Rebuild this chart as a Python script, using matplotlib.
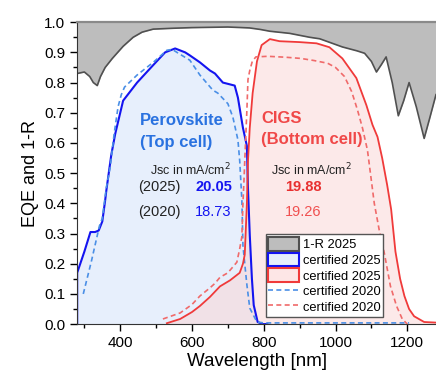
import matplotlib
matplotlib.use("Agg")
import matplotlib.pyplot as plt
from matplotlib.patches import Patch
from matplotlib.lines import Line2D

plt.rcParams['font.family'] = ['Liberation Sans', 'DejaVu Sans']

# 1-R (reflection loss) of the 2025 device
r_wl = [280, 300, 315, 325, 336, 345, 358, 378, 408, 436, 461, 492, 550, 600, 650, 700,
        760, 790, 817, 872, 928, 956, 1019, 1060, 1081, 1100, 1114, 1128, 1141, 1158,
        1175, 1190, 1205, 1225, 1247, 1262, 1280]
r_val = [0.83, 0.835, 0.82, 0.80, 0.79, 0.82, 0.85, 0.88, 0.92, 0.95, 0.967, 0.977, 0.98,
         0.982, 0.983, 0.984, 0.981, 0.976, 0.97, 0.963, 0.95, 0.945, 0.918, 0.905, 0.897,
         0.87, 0.835, 0.86, 0.885, 0.80, 0.69, 0.74, 0.80, 0.72, 0.615, 0.68, 0.76]

# perovskite top cell, certified 2025
ps_wl = [280, 280, 300, 317, 330, 340, 350, 358, 361, 375, 386, 408, 447, 492, 525, 553,
         581, 594, 622, 650, 664, 686, 719, 728, 742, 753, 756, 761, 767, 772, 783, 797, 810]
ps_val = [0, 0.17, 0.24, 0.305, 0.305, 0.31, 0.34, 0.41, 0.44, 0.56, 0.63, 0.74, 0.80,
          0.858, 0.90, 0.913, 0.90, 0.89, 0.867, 0.84, 0.83, 0.80, 0.79, 0.75, 0.65, 0.59,
          0.45, 0.295, 0.15, 0.063, 0.007, 0.0, 0.0]

# perovskite top cell, certified 2020
pd_wl = [297, 320, 342, 350, 361, 372, 383, 394, 403, 412, 447, 492, 530, 545, 558, 594,
         622, 658, 672, 700, 714, 728, 733, 739, 742, 747, 753, 761, 781, 800, 1205]
pd_val = [0.10, 0.21, 0.325, 0.35, 0.45, 0.52, 0.63, 0.72, 0.76, 0.785, 0.825, 0.867, 0.907,
          0.91, 0.90, 0.874, 0.825, 0.775, 0.765, 0.73, 0.685, 0.61, 0.54, 0.41, 0.26, 0.20,
          0.13, 0.053, 0.007, 0.004, 0.004]

# CIGS bottom cell, certified 2025
cs_wl = [530, 567, 600, 622, 650, 678, 706, 733, 742, 747, 753, 756, 761, 769, 781, 794,
         817, 844, 900, 947, 983, 1019, 1058, 1086, 1103, 1117, 1130, 1144, 1155, 1167,
         1180, 1192, 1205, 1219, 1247, 1280]
cs_val = [0.003, 0.017, 0.04, 0.06, 0.09, 0.125, 0.145, 0.17, 0.2, 0.23, 0.40, 0.54, 0.65,
          0.765, 0.87, 0.924, 0.944, 0.937, 0.934, 0.93, 0.917, 0.88, 0.815, 0.725, 0.66,
          0.62, 0.55, 0.46, 0.38, 0.24, 0.15, 0.093, 0.05, 0.026, 0.007, 0.005]

# CIGS bottom cell, certified 2020
cd_wl = [519, 567, 600, 622, 650, 664, 678, 700, 725, 733, 739, 742, 745, 747, 753, 756,
         761, 768, 778, 811, 860, 903, 940, 978, 1000, 1025, 1045, 1061, 1075, 1089, 1108,
         1122, 1136, 1153, 1170, 1186, 1200]
cd_val = [0.017, 0.037, 0.065, 0.093, 0.12, 0.135, 0.155, 0.17, 0.205, 0.25, 0.29, 0.40,
          0.48, 0.54, 0.71, 0.81, 0.84, 0.87, 0.885, 0.887, 0.884, 0.88, 0.873, 0.864, 0.85,
          0.82, 0.77, 0.71, 0.65, 0.576, 0.40, 0.31, 0.235, 0.126, 0.06, 0.017, 0.0]

jsc_pero = ['20.05', '18.73']
jsc_cigs = ['19.88', '19.26']
legend_labels = ['1-R 2025', 'certified 2025', 'certified 2025', 'certified 2020', 'certified 2020']

blue = '#1414f0'
blue_d = '#4a8fe6'
red = '#f03a3a'
red_d = '#f06a6a'

fig = plt.figure(figsize=(4.36, 3.76), dpi=100)
ax = fig.add_axes([0.177, 0.138, 0.823, 0.803])

# fills
ax.fill_between(r_wl, r_val, 1.0, color='#bdbdbd', lw=0)
ax.fill_between(ps_wl, ps_val, 0, color='#e7effc', lw=0)
ax.fill_between(cs_wl, cs_val, 0, color='#fbd4d4', alpha=0.5, lw=0)

# lines
ax.plot(r_wl, r_val, color='#505050', lw=1.2)
ax.plot(ps_wl, ps_val, color=blue, lw=1.5)
ax.plot(pd_wl, pd_val, color=blue_d, lw=1.2, dashes=(3, 2))
ax.plot(cs_wl, cs_val, color=red, lw=1.3)
ax.plot(cd_wl, cd_val, color=red_d, lw=1.2, dashes=(3, 2))

ax.set_xlim(280, 1280)
ax.set_ylim(0, 1.0)
ax.set_xticks([400, 600, 800, 1000, 1200])
ax.set_xticks([300, 500, 700, 900, 1100], minor=True)
ax.set_yticks([i / 10 for i in range(11)])
ax.set_yticks([i / 20 for i in range(1, 20, 2)], minor=True)
ax.set_yticklabels(['%.1f' % (i / 10) for i in range(11)])
ax.tick_params(which='major', direction='out', length=5, width=1, labelsize=11)
ax.tick_params(which='minor', direction='out', length=3, width=1)
ax.spines['right'].set_visible(False)
ax.spines['top'].set_color('#8a8a8a')
ax.spines['top'].set_linewidth(1.6)
ax.spines['left'].set_color('#333333')
ax.spines['bottom'].set_color('#333333')
ax.set_xlabel('Wavelength [nm]', fontsize=13.5, labelpad=2)
ax.set_ylabel('EQE and 1-R', fontsize=13, labelpad=4)

# annotations
ax.text(456, 0.675, 'Perovskite', color='#2a72e0', fontsize=12, fontweight='bold', va='center')
ax.text(456, 0.600, '(Top cell)', color='#2a72e0', fontsize=12, fontweight='bold', va='center')
ax.text(793, 0.680, 'CIGS', color='#f04848', fontsize=12, fontweight='bold', va='center')
ax.text(793, 0.612, '(Bottom cell)', color='#f04848', fontsize=12, fontweight='bold', va='center')
ax.text(484, 0.51, 'Jsc in mA/cm$^2$', color='#222222', fontsize=9, va='center')
ax.text(821, 0.51, 'Jsc in mA/cm$^2$', color='#222222', fontsize=9, va='center')
ax.text(450, 0.455, '(2025)', color='#222222', fontsize=10.5, va='center')
ax.text(450, 0.370, '(2020)', color='#222222', fontsize=10.5, va='center')
ax.text(609, 0.455, jsc_pero[0], color=blue, fontsize=10.5, fontweight='bold', va='center')
ax.text(609, 0.370, jsc_pero[1], color=blue, fontsize=10.5, va='center')
ax.text(860, 0.455, jsc_cigs[0], color='#e83030', fontsize=10.5, fontweight='bold', va='center')
ax.text(860, 0.370, jsc_cigs[1], color='#f05050', fontsize=10.5, va='center')

handles = [
    Patch(facecolor='#bdbdbd', edgecolor='#505050', lw=1.5),
    Patch(facecolor='#e7effc', edgecolor=blue, lw=1.5),
    Patch(facecolor='#fde6e6', edgecolor=red, lw=1.5),
    Line2D([], [], color=blue_d, lw=1.2, dashes=(3, 2)),
    Line2D([], [], color=red_d, lw=1.2, dashes=(3, 2)),
]
leg = ax.legend(handles, legend_labels, loc='lower left', bbox_to_anchor=(0.525, 0.025),
                fontsize=9.3, frameon=True, fancybox=False, framealpha=1,
                edgecolor='#555555', handlelength=2.4, handleheight=1.25,
                labelspacing=0.12, borderpad=0.2, handletextpad=0.3, borderaxespad=0)
leg.get_frame().set_linewidth(1.0)

fig.savefig('out.png', dpi=100)
